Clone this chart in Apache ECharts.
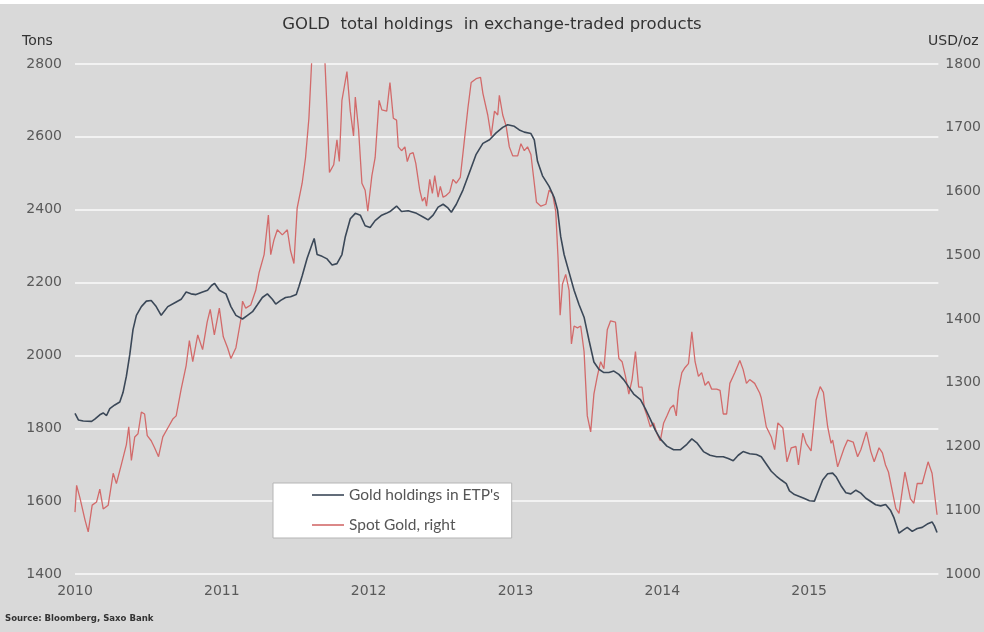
<!DOCTYPE html>
<html>
<head>
<meta charset="utf-8">
<script src="https://cdn.jsdelivr.net/npm/echarts@6/dist/echarts.min.js"></script>
<style>
html,body{margin:0;padding:0;background:#d9d9d9;}
#chart{width:984px;height:632px;}
</style>
</head>
<body>
<div id="chart"></div>
<script>
// ---- data (x = decimal year) ----
const yearTicks = [2010, 2011, 2012, 2013, 2014, 2015];
const holdingsYears = [2010.000,2010.023,2010.056,2010.113,2010.135,2010.169,2010.192,2010.215,2010.237,2010.271,2010.305,2010.327,2010.350,2010.373,2010.395,2010.418,2010.452,2010.486,2010.519,2010.553,2010.587,2010.632,2010.677,2010.723,2010.757,2010.790,2010.824,2010.869,2010.903,2010.930,2010.950,2010.983,2011.028,2011.062,2011.096,2011.141,2011.175,2011.209,2011.242,2011.276,2011.310,2011.344,2011.367,2011.401,2011.434,2011.468,2011.507,2011.525,2011.547,2011.581,2011.615,2011.629,2011.649,2011.683,2011.717,2011.751,2011.784,2011.818,2011.841,2011.875,2011.909,2011.943,2011.976,2012.010,2012.044,2012.089,2012.120,2012.145,2012.190,2012.224,2012.269,2012.326,2012.371,2012.405,2012.439,2012.473,2012.507,2012.540,2012.563,2012.597,2012.642,2012.687,2012.732,2012.778,2012.823,2012.868,2012.913,2012.947,2012.992,2013.026,2013.060,2013.105,2013.128,2013.150,2013.184,2013.229,2013.263,2013.286,2013.308,2013.331,2013.365,2013.399,2013.433,2013.467,2013.501,2013.534,2013.568,2013.602,2013.636,2013.670,2013.704,2013.738,2013.772,2013.805,2013.851,2013.884,2013.918,2013.952,2013.986,2014.031,2014.077,2014.122,2014.167,2014.201,2014.235,2014.280,2014.325,2014.370,2014.415,2014.449,2014.483,2014.517,2014.550,2014.595,2014.641,2014.674,2014.708,2014.742,2014.776,2014.810,2014.844,2014.866,2014.900,2014.934,2014.968,2015.002,2015.036,2015.058,2015.092,2015.126,2015.160,2015.183,2015.216,2015.250,2015.284,2015.318,2015.352,2015.386,2015.420,2015.453,2015.487,2015.521,2015.555,2015.578,2015.612,2015.645,2015.668,2015.702,2015.736,2015.770,2015.804,2015.837,2015.853,2015.871];
const holdingsTons = [1841,1823,1820,1819,1825,1837,1842,1835,1854,1864,1872,1898,1943,2002,2071,2110,2134,2149,2151,2134,2110,2134,2144,2154,2174,2169,2167,2174,2179,2192,2198,2179,2169,2134,2110,2100,2110,2120,2139,2159,2169,2154,2141,2151,2159,2161,2167,2189,2218,2267,2306,2321,2277,2272,2265,2248,2252,2277,2326,2375,2390,2385,2356,2351,2370,2385,2390,2395,2410,2395,2397,2390,2380,2372,2385,2407,2415,2405,2393,2415,2454,2503,2552,2582,2592,2611,2626,2633,2629,2619,2613,2609,2592,2533,2493,2464,2434,2400,2326,2277,2228,2179,2139,2105,2041,1982,1962,1953,1953,1957,1948,1933,1913,1894,1879,1854,1825,1795,1771,1751,1741,1741,1756,1771,1760,1736,1726,1722,1722,1717,1711,1726,1736,1730,1728,1722,1702,1682,1669,1658,1648,1628,1618,1613,1607,1601,1600,1623,1658,1675,1677,1667,1643,1623,1620,1630,1622,1608,1599,1590,1587,1591,1574,1554,1512,1522,1528,1517,1525,1528,1537,1543,1532,1514];
const goldYears = [2010.000,2010.011,2010.034,2010.068,2010.090,2010.117,2010.147,2010.169,2010.192,2010.226,2010.260,2010.282,2010.316,2010.350,2010.366,2010.384,2010.407,2010.429,2010.452,2010.474,2010.492,2010.519,2010.542,2010.569,2010.598,2010.632,2010.666,2010.689,2010.723,2010.757,2010.779,2010.802,2010.836,2010.869,2010.900,2010.921,2010.949,2010.983,2011.010,2011.039,2011.062,2011.096,2011.130,2011.141,2011.163,2011.197,2011.231,2011.254,2011.288,2011.317,2011.333,2011.355,2011.378,2011.412,2011.446,2011.468,2011.491,2011.513,2011.547,2011.570,2011.593,2011.611,2011.630,2011.660,2011.685,2011.701,2011.717,2011.733,2011.762,2011.784,2011.800,2011.818,2011.852,2011.875,2011.897,2011.909,2011.931,2011.954,2011.976,2011.994,2012.022,2012.044,2012.071,2012.090,2012.123,2012.145,2012.168,2012.190,2012.202,2012.224,2012.247,2012.263,2012.281,2012.303,2012.321,2012.348,2012.366,2012.382,2012.394,2012.416,2012.434,2012.450,2012.473,2012.488,2012.507,2012.529,2012.552,2012.574,2012.597,2012.624,2012.647,2012.676,2012.698,2012.732,2012.762,2012.778,2012.811,2012.834,2012.857,2012.879,2012.890,2012.913,2012.936,2012.958,2012.981,2013.015,2013.037,2013.060,2013.082,2013.105,2013.128,2013.143,2013.173,2013.207,2013.229,2013.252,2013.274,2013.290,2013.304,2013.320,2013.342,2013.365,2013.381,2013.399,2013.422,2013.444,2013.467,2013.489,2013.512,2013.534,2013.557,2013.580,2013.602,2013.625,2013.647,2013.681,2013.704,2013.726,2013.749,2013.772,2013.794,2013.817,2013.839,2013.862,2013.878,2013.896,2013.918,2013.941,2013.964,2013.986,2014.009,2014.031,2014.054,2014.077,2014.095,2014.110,2014.133,2014.155,2014.178,2014.201,2014.223,2014.246,2014.268,2014.291,2014.314,2014.336,2014.370,2014.393,2014.415,2014.438,2014.460,2014.494,2014.528,2014.539,2014.550,2014.573,2014.595,2014.629,2014.663,2014.674,2014.708,2014.742,2014.765,2014.787,2014.821,2014.849,2014.878,2014.910,2014.927,2014.957,2014.979,2015.013,2015.047,2015.075,2015.097,2015.126,2015.149,2015.160,2015.194,2015.239,2015.262,2015.300,2015.330,2015.352,2015.390,2015.420,2015.443,2015.476,2015.499,2015.520,2015.540,2015.590,2015.612,2015.652,2015.690,2015.713,2015.736,2015.770,2015.810,2015.837,2015.871];
const goldPrice = [1097,1139,1119,1085,1066,1108,1113,1133,1102,1108,1158,1142,1172,1203,1231,1178,1215,1220,1254,1251,1217,1209,1198,1184,1215,1229,1243,1248,1290,1327,1366,1333,1375,1352,1395,1415,1375,1417,1372,1355,1338,1355,1400,1428,1417,1422,1445,1473,1501,1563,1501,1524,1540,1532,1540,1507,1487,1574,1613,1653,1715,1800,1870,1850,1895,1810,1726,1630,1642,1681,1647,1743,1788,1726,1687,1748,1698,1613,1602,1569,1625,1653,1743,1728,1726,1771,1715,1712,1670,1664,1670,1647,1659,1661,1644,1602,1585,1591,1577,1619,1597,1625,1591,1608,1591,1594,1599,1619,1613,1622,1670,1731,1771,1777,1779,1754,1720,1687,1726,1720,1751,1720,1703,1670,1656,1656,1675,1664,1670,1658,1613,1583,1577,1580,1602,1597,1569,1495,1406,1455,1470,1445,1361,1389,1386,1389,1349,1248,1223,1282,1310,1333,1322,1383,1397,1395,1338,1333,1310,1282,1305,1349,1293,1293,1260,1248,1231,1237,1220,1209,1237,1248,1260,1265,1248,1288,1316,1324,1330,1380,1333,1310,1316,1296,1302,1290,1290,1288,1251,1251,1299,1316,1335,1336,1321,1299,1305,1299,1284,1276,1231,1215,1195,1237,1229,1176,1198,1200,1171,1221,1205,1193,1273,1294,1285,1231,1205,1210,1168,1198,1210,1207,1184,1195,1223,1192,1176,1198,1190,1171,1160,1103,1095,1160,1118,1111,1142,1142,1176,1158,1093];
const leftTicks = [1400, 2800, 200];   // min, max, step (Tons)
const rightTicks = [1000, 1800, 100];  // min, max, step (USD/oz)

const holdingsData = holdingsYears.map((x, i) => [x, holdingsTons[i]]);
const goldData = goldYears.map((x, i) => [x, goldPrice[i]]);

const chart = echarts.init(document.getElementById('chart'), null, {renderer: 'canvas'});
const labelColor = '#595959';
const labelFont = 'DejaVu Sans';
chart.setOption({
  backgroundColor: '#d9d9d9',
  animation: false,
  title: {
    text: 'GOLD  total holdings  in exchange-traded products',
    left: 'center', top: 11,
    textStyle: {fontFamily: labelFont, fontSize: 16.5, fontWeight: 'normal', color: '#333'}
  },
  graphic: [
    {type: 'rect', left: 0, top: 0, shape: {width: 984, height: 4}, style: {fill: '#ffffff'}},
    {type: 'text', left: 22, top: 34, style: {text: 'Tons', font: '14px DejaVu Sans', fill: '#333'}},
    {type: 'text', left: 928, top: 34, style: {text: 'USD/oz', font: '14px DejaVu Sans', fill: '#333'}},
    {type: 'text', left: 5, top: 614, style: {text: 'Source: Bloomberg, Saxo Bank', font: 'bold 9.5px "DejaVu Sans Condensed", "DejaVu Sans"', fill: '#333'}}
  ],
  legend: {
    orient: 'vertical',
    left: 273, top: 483,
    backgroundColor: '#ffffff',
    borderColor: '#b5b5b5', borderWidth: 1, borderRadius: 0,
    padding: [4, 12, 5, 39],
    icon: 'rect',
    itemWidth: 32, itemHeight: 1.6, itemGap: 14,
    textStyle: {fontFamily: 'Lato', fontSize: 15.5, color: '#555', lineHeight: 16},
    data: ["Gold holdings in ETP's", 'Spot Gold, right']
  },
  grid: {left: 75, right: 43, top: 64, bottom: 58, containLabel: false},
  xAxis: {
    type: 'value', min: yearTicks[0], max: 2015.88, interval: 1,
    axisLine: {show: false}, axisTick: {show: false}, splitLine: {show: false},
    axisLabel: {
      color: labelColor, fontFamily: labelFont, fontSize: 14, margin: 10,
      showMaxLabel: false,
      formatter: v => (yearTicks.indexOf(v) >= 0 ? String(v) : '')
    }
  },
  yAxis: [
    {
      type: 'value', min: leftTicks[0], max: leftTicks[1], interval: leftTicks[2],
      axisLine: {show: false}, axisTick: {show: false},
      splitLine: {show: true, lineStyle: {color: '#f2f2f2', width: 2}},
      axisLabel: {color: labelColor, fontFamily: labelFont, fontSize: 14, margin: 13, formatter: v => String(v)}
    },
    {
      type: 'value', position: 'right', min: rightTicks[0], max: rightTicks[1], interval: rightTicks[2],
      axisLine: {show: false}, axisTick: {show: false}, splitLine: {show: false},
      axisLabel: {color: labelColor, fontFamily: labelFont, fontSize: 14, margin: 7, formatter: v => String(v)}
    }
  ],
  series: [
    {
      name: "Gold holdings in ETP's", type: 'line', yAxisIndex: 0,
      data: holdingsData, symbol: 'none', clip: true,
      lineStyle: {color: '#3b4858', width: 1.6}, itemStyle: {color: '#3b4858'}, z: 3
    },
    {
      name: 'Spot Gold, right', type: 'line', yAxisIndex: 1,
      data: goldData, symbol: 'none', clip: true,
      lineStyle: {color: '#d26a6a', width: 1.3}, itemStyle: {color: '#d26a6a'}, z: 2
    }
  ]
});
</script>
</body>
</html>
